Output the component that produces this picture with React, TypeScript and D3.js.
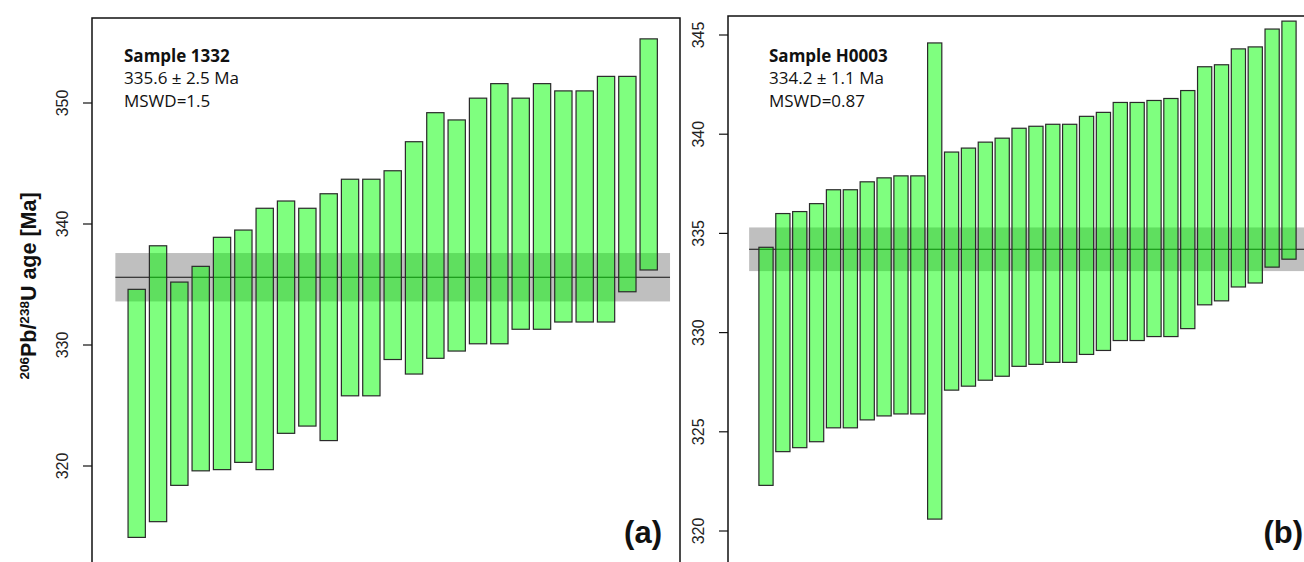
import React from 'react';
import * as d3 from 'd3';

// sample 1332 (panel a): bar tops / bottoms in Ma
const tops1332 = [334.6, 338.2, 335.2, 336.5, 338.9, 339.5, 341.3, 341.9, 341.3, 342.5, 343.7, 343.7, 344.4,
  346.8, 349.2, 348.6, 350.4, 351.6, 350.4, 351.6, 351.0, 351.0, 352.2, 352.2, 355.3];
const bottoms1332 = [314.1, 315.4, 318.4, 319.6, 319.7, 320.3, 319.7, 322.7, 323.3, 322.1, 325.8, 325.8, 328.8,
  327.6, 328.9, 329.5, 330.1, 330.1, 331.3, 331.3, 331.9, 331.9, 331.9, 334.4, 336.2];
const mean1332 = 335.6;
const band1332 = [333.6, 337.6];
const ticks1332 = [320, 330, 340, 350];
const text1332 = ['Sample 1332', '335.6 \u00b1 2.5 Ma', 'MSWD=1.5'];

// sample H0003 (panel b)
const topsH0003 = [334.3, 336.0, 336.1, 336.5, 337.2, 337.2, 337.6, 337.8, 337.9, 337.9, 344.6, 339.1, 339.3,
  339.6, 339.8, 340.3, 340.4, 340.5, 340.5, 340.9, 341.1, 341.6, 341.6, 341.7, 341.8, 342.2, 343.4, 343.5,
  344.3, 344.4, 345.3, 345.7];
const bottomsH0003 = [322.3, 324.0, 324.2, 324.5, 325.2, 325.2, 325.6, 325.8, 325.9, 325.9, 320.6, 327.1, 327.3,
  327.6, 327.8, 328.3, 328.4, 328.5, 328.5, 328.9, 329.1, 329.6, 329.6, 329.8, 329.8, 330.2, 331.4, 331.6,
  332.3, 332.5, 333.3, 333.7];
const meanH0003 = 334.2;
const bandH0003 = [333.1, 335.3];
const ticksH0003 = [320, 325, 330, 335, 340, 345];
const textH0003 = ['Sample H0003', '334.2 \u00b1 1.1 Ma', 'MSWD=0.87'];

const W = 1304;
const H = 562;

type PanelProps = {
  tops: number[];
  bottoms: number[];
  mean: number;
  band: number[];
  ticks: number[];
  lines: string[];
  tag: string;
  frame: [number, number, number]; // left, right, top
  yDomain: [number, number];
  yRange: [number, number];
  xRange: [number, number];
  barW: number;
  textX: number;
  tagX: number;
};

function Panel(p: PanelProps) {
  const n = p.tops.length;
  const y = d3.scaleLinear().domain(p.yDomain).range(p.yRange);
  const x = d3.scaleLinear().domain([0, n - 1]).range(p.xRange);
  const [fl, fr, ft] = p.frame;
  return (
    <g>
      {/* error envelope of weighted mean */}
      <rect x={x(-1)} width={x(n) - x(-1)} y={y(p.band[1])} height={y(p.band[0]) - y(p.band[1])} fill="#bfbfbf" />
      <line x1={x(-1)} x2={x(n)} y1={y(p.mean)} y2={y(p.mean)} stroke="#111" strokeWidth={1.2} />
      {p.tops.map((t, i) => (
        <rect key={i} x={x(i) - p.barW / 2} width={p.barW} y={y(t)} height={y(p.bottoms[i]) - y(t)}
          fill="rgba(0,255,0,0.5)" stroke="#2a2a2a" strokeWidth={1.2} />
      ))}
      <path d={`M${fr},${H + 20}V${ft}H${fl}V${H + 20}`} fill="none" stroke="#111" strokeWidth={1.5} />
      {p.ticks.map(t => (
        <g key={t}>
          <line x1={fl - 9} x2={fl} y1={y(t)} y2={y(t)} stroke="#111" strokeWidth={1.2} />
          <text transform={`translate(${fl - 24},${y(t)}) rotate(-90)`} textAnchor="middle"
            fontFamily="'Liberation Sans', Arial, sans-serif" fontSize={16} fill="#222">{t}</text>
        </g>
      ))}
      <g fontFamily="'Open Sans', 'Noto Sans', sans-serif" fontSize={17} fill="#111">
        <text x={p.textX} y={62} fontWeight="bold">{p.lines[0]}</text>
        <text x={p.textX} y={84}>{p.lines[1]}</text>
        <text x={p.textX} y={107}>{p.lines[2]}</text>
      </g>
      <text x={p.tagX} y={543} textAnchor="end" fontFamily="'Liberation Sans', Arial, sans-serif"
        fontWeight="bold" fontSize={31} fill="#111">{p.tag}</text>
    </g>
  );
}

export default function App() {
  return (
    <svg width={W} height={H} style={{ position: 'absolute', left: 0, top: 0, background: '#fff' }}>
      <rect width={W} height={H} fill="#fff" />
      <Panel tops={tops1332} bottoms={bottoms1332} mean={mean1332} band={band1332} ticks={ticks1332}
        lines={text1332} tag="(a)" frame={[92, 680, 18]} yDomain={[320, 350]} yRange={[466, 103]}
        xRange={[136.7, 648.7]} barW={17.3} textX={124} tagX={662} />
      <Panel tops={topsH0003} bottoms={bottomsH0003} mean={meanH0003} band={bandH0003} ticks={ticksH0003}
        lines={textH0003} tag="(b)" frame={[728, 1330, 16]} yDomain={[320, 345]} yRange={[531, 35]}
        xRange={[766, 1289]} barW={14.2} textX={769} tagX={1303} />
      <text transform="translate(36,286) rotate(-90)" textAnchor="middle"
        fontFamily="'Liberation Sans', Arial, sans-serif" fontWeight="bold" fontSize={21.5} fill="#111">
        <tspan fontSize={13.5} dy={-7}>206</tspan>
        <tspan dy={7}>Pb/</tspan>
        <tspan fontSize={13.5} dy={-7}>238</tspan>
        <tspan dy={7}>U age [Ma]</tspan>
      </text>
    </svg>
  );
}
